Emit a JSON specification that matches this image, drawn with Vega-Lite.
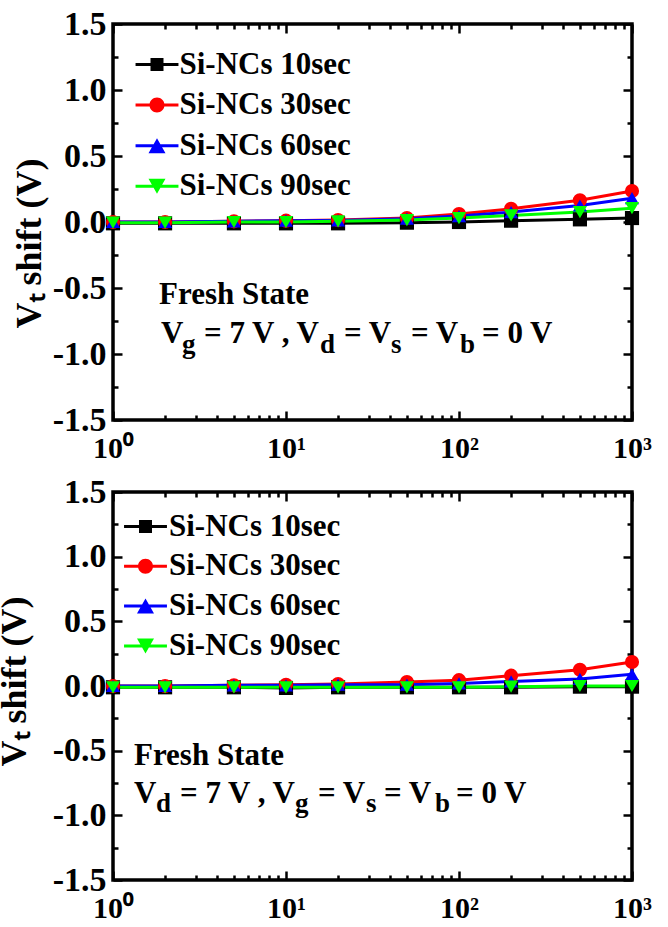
{
  "$schema": "https://vega.github.io/schema/vega-lite/v6.json",
  "padding": {"left": -6, "top": 5, "right": 0, "bottom": 0},
  "spacing": 8,
  "resolve": {"scale": {"color": "independent"}, "legend": {"color": "independent"}},
  "config": {
    "view": {"stroke": "black", "strokeWidth": 3.5},
    "font": "Liberation Serif",
    "axis": {"labelFont": "Liberation Serif", "labelFontWeight": "bold", "labelColor": "black", "titleFont": "Liberation Serif", "titleFontWeight": "bold", "titleColor": "black", "domain": false, "grid": false, "tickColor": "black", "tickWidth": 2.5, "labelFlush": false, "labelOverlap": false},
    "legend": {"labelFont": "Liberation Serif", "labelFontWeight": "bold", "labelFontSize": 31, "labelColor": "black", "labelLimit": 400, "symbolSize": 900, "padding": 0}
  },
  "datasets": {
    "top": [
      {"t": 1, "v": -0.01, "series": "Si-NCs 10sec"}, {"t": 2, "v": -0.01, "series": "Si-NCs 10sec"}, {"t": 5, "v": -0.01, "series": "Si-NCs 10sec"}, {"t": 10, "v": -0.01, "series": "Si-NCs 10sec"}, {"t": 20, "v": -0.01, "series": "Si-NCs 10sec"}, {"t": 50, "v": -0.005, "series": "Si-NCs 10sec"}, {"t": 100, "v": 0.0, "series": "Si-NCs 10sec"}, {"t": 200, "v": 0.01, "series": "Si-NCs 10sec"}, {"t": 500, "v": 0.02, "series": "Si-NCs 10sec"}, {"t": 1000, "v": 0.03, "series": "Si-NCs 10sec"},
      {"t": 1, "v": 0.0, "series": "Si-NCs 30sec"}, {"t": 2, "v": 0.0, "series": "Si-NCs 30sec"}, {"t": 5, "v": 0.005, "series": "Si-NCs 30sec"}, {"t": 10, "v": 0.01, "series": "Si-NCs 30sec"}, {"t": 20, "v": 0.015, "series": "Si-NCs 30sec"}, {"t": 50, "v": 0.03, "series": "Si-NCs 30sec"}, {"t": 100, "v": 0.06, "series": "Si-NCs 30sec"}, {"t": 200, "v": 0.1, "series": "Si-NCs 30sec"}, {"t": 500, "v": 0.165, "series": "Si-NCs 30sec"}, {"t": 1000, "v": 0.235, "series": "Si-NCs 30sec"},
      {"t": 1, "v": 0.0, "series": "Si-NCs 60sec"}, {"t": 2, "v": 0.0, "series": "Si-NCs 60sec"}, {"t": 5, "v": 0.005, "series": "Si-NCs 60sec"}, {"t": 10, "v": 0.01, "series": "Si-NCs 60sec"}, {"t": 20, "v": 0.012, "series": "Si-NCs 60sec"}, {"t": 50, "v": 0.025, "series": "Si-NCs 60sec"}, {"t": 100, "v": 0.045, "series": "Si-NCs 60sec"}, {"t": 200, "v": 0.075, "series": "Si-NCs 60sec"}, {"t": 500, "v": 0.125, "series": "Si-NCs 60sec"}, {"t": 1000, "v": 0.18, "series": "Si-NCs 60sec"},
      {"t": 1, "v": -0.005, "series": "Si-NCs 90sec"}, {"t": 2, "v": -0.005, "series": "Si-NCs 90sec"}, {"t": 5, "v": 0.0, "series": "Si-NCs 90sec"}, {"t": 10, "v": 0.0, "series": "Si-NCs 90sec"}, {"t": 20, "v": 0.005, "series": "Si-NCs 90sec"}, {"t": 50, "v": 0.015, "series": "Si-NCs 90sec"}, {"t": 100, "v": 0.03, "series": "Si-NCs 90sec"}, {"t": 200, "v": 0.05, "series": "Si-NCs 90sec"}, {"t": 500, "v": 0.075, "series": "Si-NCs 90sec"}, {"t": 1000, "v": 0.105, "series": "Si-NCs 90sec"}
    ],
    "bot": [
      {"t": 1, "v": -0.01, "series": "Si-NCs 10sec"}, {"t": 2, "v": -0.01, "series": "Si-NCs 10sec"}, {"t": 5, "v": -0.01, "series": "Si-NCs 10sec"}, {"t": 10, "v": -0.015, "series": "Si-NCs 10sec"}, {"t": 20, "v": -0.01, "series": "Si-NCs 10sec"}, {"t": 50, "v": -0.01, "series": "Si-NCs 10sec"}, {"t": 100, "v": -0.01, "series": "Si-NCs 10sec"}, {"t": 200, "v": -0.01, "series": "Si-NCs 10sec"}, {"t": 500, "v": -0.005, "series": "Si-NCs 10sec"}, {"t": 1000, "v": -0.005, "series": "Si-NCs 10sec"},
      {"t": 1, "v": 0.0, "series": "Si-NCs 30sec"}, {"t": 2, "v": 0.0, "series": "Si-NCs 30sec"}, {"t": 5, "v": 0.005, "series": "Si-NCs 30sec"}, {"t": 10, "v": 0.01, "series": "Si-NCs 30sec"}, {"t": 20, "v": 0.015, "series": "Si-NCs 30sec"}, {"t": 50, "v": 0.03, "series": "Si-NCs 30sec"}, {"t": 100, "v": 0.045, "series": "Si-NCs 30sec"}, {"t": 200, "v": 0.08, "series": "Si-NCs 30sec"}, {"t": 500, "v": 0.125, "series": "Si-NCs 30sec"}, {"t": 1000, "v": 0.185, "series": "Si-NCs 30sec"},
      {"t": 1, "v": 0.0, "series": "Si-NCs 60sec"}, {"t": 2, "v": 0.0, "series": "Si-NCs 60sec"}, {"t": 5, "v": 0.005, "series": "Si-NCs 60sec"}, {"t": 10, "v": 0.005, "series": "Si-NCs 60sec"}, {"t": 20, "v": 0.01, "series": "Si-NCs 60sec"}, {"t": 50, "v": 0.01, "series": "Si-NCs 60sec"}, {"t": 100, "v": 0.02, "series": "Si-NCs 60sec"}, {"t": 200, "v": 0.035, "series": "Si-NCs 60sec"}, {"t": 500, "v": 0.055, "series": "Si-NCs 60sec"}, {"t": 1000, "v": 0.09, "series": "Si-NCs 60sec"},
      {"t": 1, "v": -0.01, "series": "Si-NCs 90sec"}, {"t": 2, "v": -0.01, "series": "Si-NCs 90sec"}, {"t": 5, "v": -0.01, "series": "Si-NCs 90sec"}, {"t": 10, "v": -0.01, "series": "Si-NCs 90sec"}, {"t": 20, "v": -0.01, "series": "Si-NCs 90sec"}, {"t": 50, "v": -0.01, "series": "Si-NCs 90sec"}, {"t": 100, "v": -0.01, "series": "Si-NCs 90sec"}, {"t": 200, "v": -0.005, "series": "Si-NCs 90sec"}, {"t": 500, "v": 0.0, "series": "Si-NCs 90sec"}, {"t": 1000, "v": 0.0, "series": "Si-NCs 90sec"}
    ],
    "topMain": [
      {"x": 1.845, "y": -0.621, "text": "Fresh State"},
      {"x": 1.895, "y": -0.917, "text": "V"},
      {"x": 3.357, "y": -0.917, "text": "= 7 V , V"},
      {"x": 21.64, "y": -0.917, "text": "= V"},
      {"x": 52.8, "y": -0.917, "text": "= V"},
      {"x": 135.8, "y": -0.917, "text": "= 0 V"}
    ],
    "topSub": [
      {"x": 2.505, "y": -0.99, "text": "g"},
      {"x": 15.73, "y": -0.99, "text": "d"},
      {"x": 40.45, "y": -0.99, "text": "s"},
      {"x": 101.3, "y": -0.99, "text": "b"}
    ],
    "botMain": [
      {"x": 1.322, "y": -0.611, "text": "Fresh State"},
      {"x": 1.322, "y": -0.905, "text": "V"},
      {"x": 2.439, "y": -0.905, "text": "= 7 V , V"},
      {"x": 15.31, "y": -0.905, "text": "= V"},
      {"x": 36.86, "y": -0.905, "text": "= V"},
      {"x": 96.1, "y": -0.905, "text": "= 0 V"}
    ],
    "botSub": [
      {"x": 1.773, "y": -0.974, "text": "d"},
      {"x": 11.27, "y": -0.974, "text": "g"},
      {"x": 29.0, "y": -0.974, "text": "s"},
      {"x": 72.6, "y": -0.974, "text": "b"}
    ]
  },
  "vconcat": [
    {
      "width": 519,
      "height": 396,
      "resolve": {"axis": {"x": "independent", "y": "independent"}},
      "layer": [
        {
          "data": {"name": "top"},
          "mark": {"type": "line", "strokeWidth": 3},
          "encoding": {
            "x": {"field": "t", "type": "quantitative", "scale": {"type": "log", "domain": [1, 1000], "nice": false}, "axis": {"orient": "bottom", "values": [1, 10, 100, 1000], "tickSize": -9, "labelPadding": 22, "labelFontSize": 30, "labelExpr": "datum.value == 1 ? '10⁰' : datum.value == 10 ? '10¹' : datum.value == 100 ? '10²' : '10³'", "title": null}},
            "y": {"field": "v", "type": "quantitative", "scale": {"domain": [-1.5, 1.5], "nice": false, "zero": false}, "axis": {"orient": "left", "values": [-1.5, -1, -0.5, 0, 0.5, 1, 1.5], "tickSize": -9, "labelPadding": 16, "labelFontSize": 34, "labelExpr": "replace(format(datum.value, '.1f'), '−', '-')", "title": "Vₜ shift (V)", "titleFontSize": 36, "titlePadding": 4, "titleY": 219}},
            "color": {"field": "series", "type": "nominal", "scale": {"domain": ["Si-NCs 10sec", "Si-NCs 30sec", "Si-NCs 60sec", "Si-NCs 90sec"], "range": ["#000000", "#ff0000", "#0000ff", "#00ff00"]}, "legend": {"orient": "none", "legendX": 28.5, "legendY": 25, "title": null, "labelOffset": 7, "rowPadding": 8.6, "encode": {"symbols": {"update": {"strokeWidth": {"value": 0}, "opacity": {"value": 1}, "fill": {"signal": "datum.value == 'Si-NCs 10sec' ? '#000000' : datum.value == 'Si-NCs 30sec' ? '#ff0000' : datum.value == 'Si-NCs 60sec' ? '#0000ff' : '#00ff00'"}, "shape": {"signal": "datum.value == 'Si-NCs 10sec' ? 'M-1.43,-0.1H1.43V0.1H-1.43ZM-0.433,-0.433H0.433V0.433H-0.433Z' : datum.value == 'Si-NCs 30sec' ? 'M-1.43,-0.1H1.43V0.1H-1.43ZM-0.5,0A0.5,0.5,0,1,1,0.5,0A0.5,0.5,0,1,1,-0.5,0Z' : datum.value == 'Si-NCs 60sec' ? 'M-1.43,-0.1H1.43V0.1H-1.43ZM0,-0.5L0.567,0.5H-0.567Z' : 'M-1.43,-0.1H1.43V0.1H-1.43ZM0,0.5L-0.567,-0.5H0.567Z'"}}}}}}
          }
        },
        {
          "data": {"name": "top"},
          "transform": [{"filter": "datum.series == 'Si-NCs 10sec'"}],
          "mark": {"type": "point", "shape": "square", "filled": true, "color": "#000000", "size": 200, "opacity": 1},
          "encoding": {
            "x": {"field": "t", "type": "quantitative", "axis": {"orient": "top", "values": [1, 10, 100, 1000], "tickSize": -9, "labels": false, "title": null}},
            "y": {"field": "v", "type": "quantitative", "axis": {"orient": "right", "values": [-1.5, -1, -0.5, 0, 0.5, 1, 1.5], "tickSize": -9, "labels": false, "title": null}}
          }
        },
        {
          "data": {"name": "top"},
          "transform": [{"filter": "datum.series == 'Si-NCs 30sec'"}],
          "mark": {"type": "point", "shape": "circle", "filled": true, "color": "#ff0000", "size": 200, "opacity": 1},
          "encoding": {
            "x": {"field": "t", "type": "quantitative", "axis": null},
            "y": {"field": "v", "type": "quantitative", "axis": null}
          }
        },
        {
          "data": {"name": "top"},
          "transform": [{"filter": "datum.series == 'Si-NCs 60sec'"}],
          "mark": {"type": "point", "shape": "triangle-up", "filled": true, "color": "#0000ff", "size": 200, "opacity": 1},
          "encoding": {
            "x": {"field": "t", "type": "quantitative", "axis": null},
            "y": {"field": "v", "type": "quantitative", "axis": null}
          }
        },
        {
          "data": {"name": "top"},
          "transform": [{"filter": "datum.series == 'Si-NCs 90sec'"}],
          "mark": {"type": "point", "shape": "triangle-down", "filled": true, "color": "#00ff00", "size": 200, "opacity": 1},
          "encoding": {
            "x": {"field": "t", "type": "quantitative", "axis": null},
            "y": {"field": "v", "type": "quantitative", "axis": null}
          }
        },
        {
          "data": {"name": "topMain"},
          "mark": {"type": "text", "align": "left", "baseline": "alphabetic", "font": "Liberation Serif", "fontWeight": "bold", "fontSize": 31, "color": "black"},
          "encoding": {
            "x": {"field": "x", "type": "quantitative", "axis": {"orient": "bottom", "values": [2, 3, 4, 5, 6, 7, 8, 9, 20, 30, 40, 50, 60, 70, 80, 90, 200, 300, 400, 500, 600, 700, 800, 900], "tickSize": -5, "labels": false, "title": null}},
            "y": {"field": "y", "type": "quantitative", "axis": {"orient": "left", "values": [-1.25, -0.75, -0.25, 0.25, 0.75, 1.25], "tickSize": -5, "labels": false, "title": null}},
            "text": {"field": "text"}
          }
        },
        {
          "data": {"name": "topSub"},
          "mark": {"type": "text", "align": "left", "baseline": "alphabetic", "font": "Liberation Serif", "fontWeight": "bold", "fontSize": 27, "color": "black"},
          "encoding": {
            "x": {"field": "x", "type": "quantitative", "axis": {"orient": "top", "values": [2, 3, 4, 5, 6, 7, 8, 9, 20, 30, 40, 50, 60, 70, 80, 90, 200, 300, 400, 500, 600, 700, 800, 900], "tickSize": -5, "labels": false, "title": null}},
            "y": {"field": "y", "type": "quantitative", "axis": {"orient": "right", "values": [-1.25, -0.75, -0.25, 0.25, 0.75, 1.25], "tickSize": -5, "labels": false, "title": null}},
            "text": {"field": "text"}
          }
        }
      ]
    },
    {
      "width": 519,
      "height": 388,
      "resolve": {"axis": {"x": "independent", "y": "independent"}},
      "layer": [
        {
          "data": {"name": "bot"},
          "mark": {"type": "line", "strokeWidth": 3},
          "encoding": {
            "x": {"field": "t", "type": "quantitative", "scale": {"type": "log", "domain": [1, 1000], "nice": false}, "axis": {"orient": "bottom", "values": [1, 10, 100, 1000], "tickSize": -9, "labelPadding": 22, "labelFontSize": 30, "labelExpr": "datum.value == 1 ? '10⁰' : datum.value == 10 ? '10¹' : datum.value == 100 ? '10²' : '10³'", "title": null}},
            "y": {"field": "v", "type": "quantitative", "scale": {"domain": [-1.5, 1.5], "nice": false, "zero": false}, "axis": {"orient": "left", "values": [-1.5, -1, -0.5, 0, 0.5, 1, 1.5], "tickSize": -9, "labelPadding": 16, "labelFontSize": 34, "labelExpr": "replace(format(datum.value, '.1f'), '−', '-')", "title": "Vₜ shift (V)", "titleFontSize": 36, "titlePadding": 19, "titleY": 189}},
            "color": {"field": "series", "type": "nominal", "scale": {"domain": ["Si-NCs 10sec", "Si-NCs 30sec", "Si-NCs 60sec", "Si-NCs 90sec"], "range": ["#000000", "#ff0000", "#0000ff", "#00ff00"]}, "legend": {"orient": "none", "legendX": 17, "legendY": 19, "title": null, "labelOffset": 8, "rowPadding": 7.8, "encode": {"symbols": {"update": {"strokeWidth": {"value": 0}, "opacity": {"value": 1}, "fill": {"signal": "datum.value == 'Si-NCs 10sec' ? '#000000' : datum.value == 'Si-NCs 30sec' ? '#ff0000' : datum.value == 'Si-NCs 60sec' ? '#0000ff' : '#00ff00'"}, "shape": {"signal": "datum.value == 'Si-NCs 10sec' ? 'M-1.43,-0.1H1.43V0.1H-1.43ZM-0.433,-0.433H0.433V0.433H-0.433Z' : datum.value == 'Si-NCs 30sec' ? 'M-1.43,-0.1H1.43V0.1H-1.43ZM-0.5,0A0.5,0.5,0,1,1,0.5,0A0.5,0.5,0,1,1,-0.5,0Z' : datum.value == 'Si-NCs 60sec' ? 'M-1.43,-0.1H1.43V0.1H-1.43ZM0,-0.5L0.567,0.5H-0.567Z' : 'M-1.43,-0.1H1.43V0.1H-1.43ZM0,0.5L-0.567,-0.5H0.567Z'"}}}}}}
          }
        },
        {
          "data": {"name": "bot"},
          "transform": [{"filter": "datum.series == 'Si-NCs 10sec'"}],
          "mark": {"type": "point", "shape": "square", "filled": true, "color": "#000000", "size": 200, "opacity": 1},
          "encoding": {
            "x": {"field": "t", "type": "quantitative", "axis": {"orient": "top", "values": [1, 10, 100, 1000], "tickSize": -9, "labels": false, "title": null}},
            "y": {"field": "v", "type": "quantitative", "axis": {"orient": "right", "values": [-1.5, -1, -0.5, 0, 0.5, 1, 1.5], "tickSize": -9, "labels": false, "title": null}}
          }
        },
        {
          "data": {"name": "bot"},
          "transform": [{"filter": "datum.series == 'Si-NCs 30sec'"}],
          "mark": {"type": "point", "shape": "circle", "filled": true, "color": "#ff0000", "size": 200, "opacity": 1},
          "encoding": {
            "x": {"field": "t", "type": "quantitative", "axis": null},
            "y": {"field": "v", "type": "quantitative", "axis": null}
          }
        },
        {
          "data": {"name": "bot"},
          "transform": [{"filter": "datum.series == 'Si-NCs 60sec'"}],
          "mark": {"type": "point", "shape": "triangle-up", "filled": true, "color": "#0000ff", "size": 200, "opacity": 1},
          "encoding": {
            "x": {"field": "t", "type": "quantitative", "axis": null},
            "y": {"field": "v", "type": "quantitative", "axis": null}
          }
        },
        {
          "data": {"name": "bot"},
          "transform": [{"filter": "datum.series == 'Si-NCs 90sec'"}],
          "mark": {"type": "point", "shape": "triangle-down", "filled": true, "color": "#00ff00", "size": 200, "opacity": 1},
          "encoding": {
            "x": {"field": "t", "type": "quantitative", "axis": null},
            "y": {"field": "v", "type": "quantitative", "axis": null}
          }
        },
        {
          "data": {"name": "botMain"},
          "mark": {"type": "text", "align": "left", "baseline": "alphabetic", "font": "Liberation Serif", "fontWeight": "bold", "fontSize": 31, "color": "black"},
          "encoding": {
            "x": {"field": "x", "type": "quantitative", "axis": {"orient": "bottom", "values": [2, 3, 4, 5, 6, 7, 8, 9, 20, 30, 40, 50, 60, 70, 80, 90, 200, 300, 400, 500, 600, 700, 800, 900], "tickSize": -5, "labels": false, "title": null}},
            "y": {"field": "y", "type": "quantitative", "axis": {"orient": "left", "values": [-1.25, -0.75, -0.25, 0.25, 0.75, 1.25], "tickSize": -5, "labels": false, "title": null}},
            "text": {"field": "text"}
          }
        },
        {
          "data": {"name": "botSub"},
          "mark": {"type": "text", "align": "left", "baseline": "alphabetic", "font": "Liberation Serif", "fontWeight": "bold", "fontSize": 27, "color": "black"},
          "encoding": {
            "x": {"field": "x", "type": "quantitative", "axis": {"orient": "top", "values": [2, 3, 4, 5, 6, 7, 8, 9, 20, 30, 40, 50, 60, 70, 80, 90, 200, 300, 400, 500, 600, 700, 800, 900], "tickSize": -5, "labels": false, "title": null}},
            "y": {"field": "y", "type": "quantitative", "axis": {"orient": "right", "values": [-1.25, -0.75, -0.25, 0.25, 0.75, 1.25], "tickSize": -5, "labels": false, "title": null}},
            "text": {"field": "text"}
          }
        }
      ]
    }
  ]
}
